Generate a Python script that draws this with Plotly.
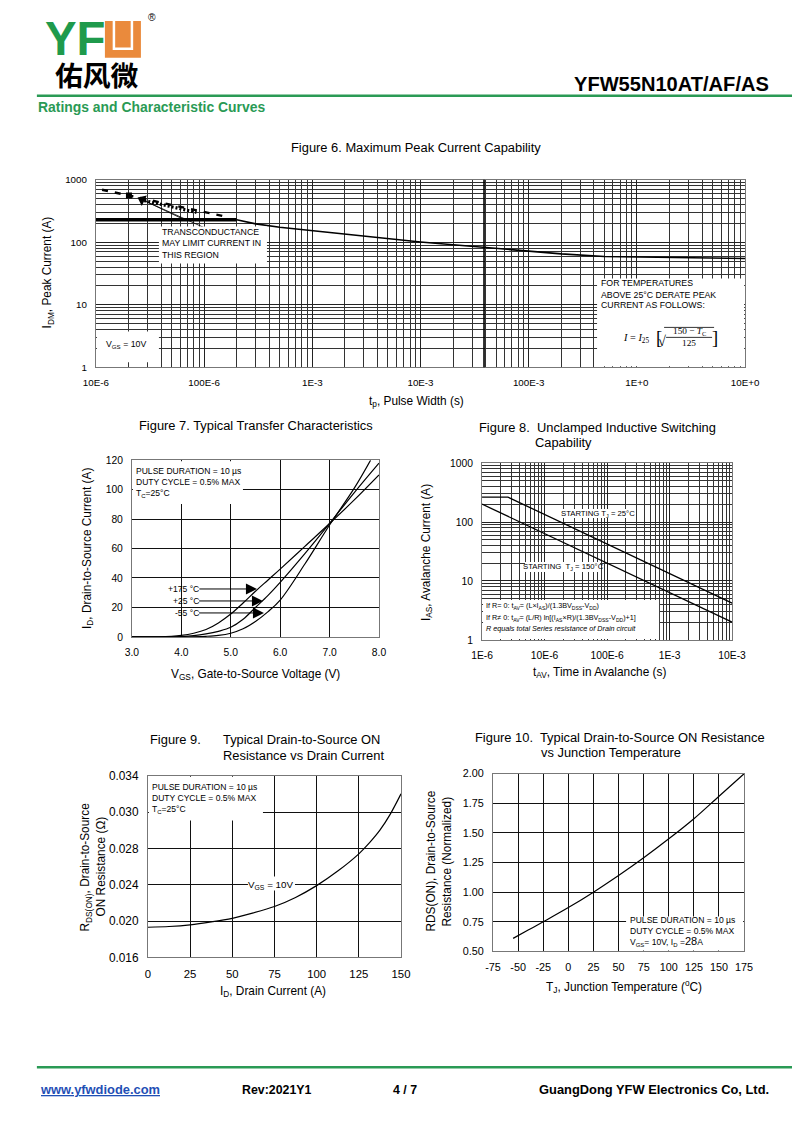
import plotly.graph_objects as go

# figure size and the measured affine relation between figure pixels and the photo
W, H = 784, 1114
KX, AX0 = 0.964, 14.4
KY, AY0 = 0.989, 6.2
FS = 1.03                       # font compensation for the photo scale
FONT = "Liberation Sans, Arial, sans-serif"
SERIF = "Liberation Serif, Times New Roman, serif"
GREEN = "#2a9a55"

# ---------------- data ----------------
# Figure 6 - Maximum Peak Current Capability
f6_xticks = [1e-5, 1e-4, 1e-3, 1e-2, 1e-1, 1, 10]
f6_xlabels = ["10E-6", "100E-6", "1E-3", "10E-3", "100E-3", "1E+0", "10E+0"]
f6_yticks = [1, 10, 100, 1000]
f6_ylabels = ["1", "10", "100", "1000"]
f6_flat_t = [1e-5, 2.0e-4]
f6_flat_i = [228, 228]
f6_curve_t = [2.0e-4, 3e-4, 5e-4, 1e-3, 2e-3, 5e-3, 1e-2, 2e-2, 5e-2, 1e-1, 2e-1, 5e-1, 1.0, 3.0, 10.0]
f6_curve_i = [228, 196, 173, 153, 133, 114, 101, 91, 80, 72, 65, 59, 58, 56, 55]
f6_dash_t = [1.14e-5, 1.55e-4]
f6_dash_i = [690, 258]
f6_dot_t = [2.8e-5, 8.5e-5]
f6_dot_i = [462, 300]
f6_square_t = [2.02e-5]
f6_square_i = [556]
f6_tip_t = [2.67e-5]
f6_tip_i = [479]
f6_lead1_t = [2.67e-5, 6.8e-5]
f6_lead1_i = [479, 222]
f6_lead2_t = [2.67e-5, 1.04e-4]
f6_lead2_i = [479, 166]

# Figure 7 - Typical Transfer Characteristics
f7_v175 = [3.0, 3.5, 3.8, 4.0, 4.25, 4.5, 4.75, 5.0, 5.25, 5.5, 5.75, 6.0, 6.5, 7.0, 7.5, 8.0]
f7_i175 = [0, 0.1, 0.4, 1.0, 2.5, 5, 9.5, 15.5, 23, 31, 38.5, 46, 61.5, 77, 93, 110]
f7_v25 = [3.0, 3.5, 3.8, 4.0, 4.25, 4.5, 4.75, 5.0, 5.25, 5.5, 5.75, 6.0, 6.5, 7.0, 7.5, 8.0]
f7_i25 = [0, 0, 0.05, 0.2, 0.8, 2, 3.8, 6.5, 12, 20, 28, 37, 56.5, 77, 98, 118]
f7_vm55 = [3.0, 4.0, 4.5, 4.75, 5.0, 5.25, 5.5, 5.75, 6.0, 6.5, 7.0, 7.5, 7.83]
f7_im55 = [0, 0, 0.4, 1.0, 2.5, 5.5, 10.5, 17, 25, 49.5, 76, 101, 120]

# Figure 8 - Unclamped Inductive Switching Capability
f8_xticks = [1e-6, 1e-5, 1e-4, 1e-3, 1e-2]
f8_xlabels = ["1E-6", "10E-6", "100E-6", "1E-3", "10E-3"]
f8_yticks = [1, 10, 100, 1000]
f8_ylabels = ["1", "10", "100", "1000"]
f8_t25 = [1e-6, 2.6e-6, 1e-2]
f8_i25 = [265, 265, 4.2]
f8_t150 = [1e-6, 1e-2]
f8_i150 = [202, 2.0]

# Figure 9 - RDS(ON) vs Drain Current
f9_yticks = [0.016, 0.020, 0.024, 0.028, 0.032, 0.036]
f9_ylabels = ["0.016", "0.020", "0.024", "0.028", "0.030", "0.034"]
f9_id = [0, 12.5, 25, 37.5, 50, 62.5, 75, 87.5, 100, 112.5, 125, 131.25, 137.5, 143.75, 150]
f9_r = [0.01932, 0.01940, 0.01958, 0.01990, 0.0203, 0.0209, 0.0216, 0.0226,
        0.0239, 0.0255, 0.0274, 0.0286, 0.0300, 0.0318, 0.0340]

# Figure 10 - RDS(ON) vs Junction Temperature
f10_xticks = [-75, -50, -25, 0, 25, 50, 75, 100, 125, 150, 175]
f10_xlabels = ["-75", "-50", "-25", "0", "25", "50", "75", "100", "125", "150", "175"]
f10_t = [-55, -40, -25, 0, 25, 50, 75, 100, 125, 150, 175]
f10_r = [0.61, 0.68, 0.75, 0.87, 1.0, 1.14, 1.29, 1.45, 1.62, 1.81, 2.0]


# ---------------- helpers (target pixels -> paper) ----------------
def PX(t):
    return ((t - AX0) / KX - 8) / W


def PY(t):
    return 1 - ((t - AY0) / KY - 8) / H


def F(s):
    return round(s * FS, 2)


P6 = (97, 746, 179, 367)
P7 = (133, 380, 460, 637)
P8 = (483, 733, 463, 640)
P9 = (149, 402, 776, 958)
P10 = (494, 745, 774, 952)

fig = go.Figure()


def line(x, y, ax, width=1.2, dash="solid", shape="linear", smoothing=1.0):
    fig.add_trace(go.Scatter(x=x, y=y, xaxis="x" + ax, yaxis="y" + ax, mode="lines",
                             line=dict(color="black", width=width, dash=dash, shape=shape,
                                       smoothing=smoothing),
                             hoverinfo="skip", showlegend=False))


# Figure 6 traces
line(f6_flat_t, f6_flat_i, "", width=3.5)
line(f6_curve_t, f6_curve_i, "", width=1.6)
line(f6_dash_t, f6_dash_i, "", width=2.4, dash="6px,7px")
line(f6_dot_t, f6_dot_i, "", width=3.2, dash="2px,2px")
line(f6_lead1_t, f6_lead1_i, "", width=0.8)
line(f6_lead2_t, f6_lead2_i, "", width=0.8)
fig.add_trace(go.Scatter(x=f6_square_t, y=f6_square_i, mode="markers", xaxis="x", yaxis="y",
                         marker=dict(symbol="square", size=6, color="black"), showlegend=False, hoverinfo="skip"))
fig.add_trace(go.Scatter(x=f6_tip_t, y=f6_tip_i, mode="markers", xaxis="x", yaxis="y",
                         marker=dict(symbol="triangle-left", size=10, angle=26, color="black"),
                         showlegend=False, hoverinfo="skip"))

# Figure 7 traces
line(f7_v175, f7_i175, "2", width=1.2, shape="spline")
line(f7_v25, f7_i25, "2", width=1.2, shape="spline")
line(f7_vm55, f7_im55, "2", width=1.2, shape="spline")

# Figure 8 traces
line(f8_t25, f8_i25, "3", width=1.3)
line(f8_t150, f8_i150, "3", width=1.3)

# Figure 9
line(f9_id, f9_r, "4", width=1.2, shape="spline", smoothing=0.8)

# Figure 10
line(f10_t, f10_r, "5", width=1.2, shape="spline")


def axis(p, which, anchor, size=10, **kw):
    if which == "x":
        dom = [PX(p[0]), PX(p[1])]
    else:
        dom = [PY(p[3]), PY(p[2])]
    d = dict(domain=dom, anchor=anchor, showline=True, mirror=True,
             linecolor="#777", linewidth=1, ticks="", zeroline=False, showgrid=True,
             gridcolor="#111", gridwidth=1.2, fixedrange=True, ticklabelstandoff=6,
             tickfont=dict(family=FONT, size=F(size), color="black"))
    d.update(kw)
    return d


def minor_vals(e0, e1):
    return [m * 10 ** e for e in range(e0, e1) for m in range(2, 10)]


LOGGRID = dict(gridcolor="#222", gridwidth=0.9)

layout = dict(
    width=W, height=H, margin=dict(l=0, r=0, t=0, b=0),
    paper_bgcolor="white", plot_bgcolor="white", showlegend=False,
    xaxis=axis(P6, "x", "y", 9.5, type="log", range=[-5, 1], tickmode="array", tickvals=f6_xticks,
               ticktext=f6_xlabels, **LOGGRID,
               minor=dict(tickmode="array", tickvals=minor_vals(-5, 1), showgrid=True,
                          gridcolor="#333", gridwidth=0.8)),
    yaxis=axis(P6, "y", "x", 9.5, type="log", range=[0, 3], tickmode="array", tickvals=f6_yticks,
               ticktext=f6_ylabels, **LOGGRID,
               minor=dict(tickmode="array", tickvals=minor_vals(0, 3), showgrid=True,
                          gridcolor="#333", gridwidth=0.8)),
    xaxis2=axis(P7, "x", "y2", 10, range=[3, 8], dtick=1, tickformat=".1f"),
    yaxis2=axis(P7, "y", "x2", 10, range=[0, 120], dtick=20),
    xaxis3=axis(P8, "x", "y3", 10, type="log", range=[-6, -2], tickmode="array", tickvals=f8_xticks,
                ticktext=f8_xlabels, **LOGGRID,
                minor=dict(tickmode="array", tickvals=minor_vals(-6, -2), showgrid=True,
                           gridcolor="#333", gridwidth=0.8)),
    yaxis3=axis(P8, "y", "x3", 10, type="log", range=[0, 3], tickmode="array", tickvals=f8_yticks,
                ticktext=f8_ylabels, **LOGGRID,
                minor=dict(tickmode="array", tickvals=minor_vals(0, 3), showgrid=True,
                           gridcolor="#333", gridwidth=0.8)),
    xaxis4=axis(P9, "x", "y4", 11, range=[0, 150], dtick=25),
    yaxis4=axis(P9, "y", "x4", 11.5, range=[0.016, 0.036], tickmode="array", tickvals=f9_yticks,
                ticktext=f9_ylabels),
    xaxis5=axis(P10, "x", "y5", 10.5, range=[-75, 175], tickmode="array", tickvals=f10_xticks,
                ticktext=f10_xlabels),
    yaxis5=axis(P10, "y", "x5", 10.5, range=[0.5, 2.0], dtick=0.25, tickformat=".2f"),
)

# ---------------- shapes ----------------
shapes = []


def wbox(x0, x1, y0, y1):
    shapes.append(dict(type="rect", xref="paper", yref="paper",
                       x0=PX(x0), x1=PX(x1), y0=PY(y1), y1=PY(y0),
                       fillcolor="white", line=dict(width=0), layer="above"))


def pline(x0, y0, x1, y1, color="black", width=1):
    shapes.append(dict(type="line", xref="paper", yref="paper", x0=PX(x0), x1=PX(x1),
                       y0=PY(y0), y1=PY(y1), line=dict(color=color, width=width), layer="above"))


# heavy grid line in Fig 6
pline(485, 179, 485, 367, "black", 1.6)
# white text panels
wbox(160, 268, 226, 263)
wbox(598, 745, 278, 366)
wbox(98, 160, 331, 362)
wbox(134, 244, 461, 504)
wbox(484, 660, 600, 639)
wbox(562, 636, 509, 518)
wbox(526, 601, 562, 572)
wbox(150, 264, 777, 821)
wbox(249, 296, 877, 891)
wbox(627, 744, 917, 951)

# header / footer graphics
pline(38, 95, 800, 95, GREEN, 2.5)
pline(38, 1068, 800, 1068, GREEN, 2.5)
shapes.append(dict(type="rect", xref="paper", yref="paper", x0=PX(106), x1=PX(142),
                   y0=PY(57), y1=PY(20), fillcolor="#ea8a3c", line=dict(width=0), layer="above"))
shapes.append(dict(type="path", xref="paper", yref="paper", layer="above",
                   path="M %f,%f L %f,%f L %f,%f L %f,%f" % (PX(115), PY(20), PX(115), PY(48),
                                                             PX(133), PY(48), PX(133), PY(20)),
                   line=dict(color="white", width=2.5)))
# formula lines in Fig 6
pline(665, 327, 715, 327, "black", 0.8)
pline(667, 337, 713, 337, "black", 0.8)

layout["shapes"] = shapes

# ---------------- annotations ----------------
anns = []


def T(text, x, y, size=10, xa="center", ya="middle", color="black", family=FONT, angle=0, align="center"):
    anns.append(dict(text=text, x=PX(x), y=PY(y), xref="paper", yref="paper", showarrow=False,
                     xanchor=xa, yanchor=ya, textangle=angle, align=align, borderpad=0,
                     font=dict(size=F(size), color=color, family=family)))


def ARROW(xt, yt, xs, ys, size=2.2, width=1):
    anns.append(dict(text="", x=PX(xt), y=PY(yt), xref="paper", yref="paper", showarrow=True,
                     ax=(xs - xt) / KX, ay=(ys - yt) / KY, arrowhead=2, arrowsize=size, arrowwidth=width,
                     arrowcolor="black", standoff=0, startstandoff=0))


# header
T("<b>YF</b>", 45, 38, 46, xa="left", color="#1f9a4c")
T("®", 153, 17, 10)
T("<b>佑风微</b>", 98, 73, 27, family="Noto Sans CJK SC")
T("<b>YFW55N10AT/AF/AS</b>", 771, 83, 19.5, xa="right")
T("<b>Ratings and Characteristic Curves</b>", 38, 106, 13.5, xa="left", color=GREEN)

# footer
T("<b><u>www.yfwdiode.com</u></b>", 40, 1090, 12.5, xa="left", color="#1f4fb5")
T("<b>Rev:2021Y1</b>", 242, 1091, 12, xa="left")
T("<b>4 / 7</b>", 393, 1091, 12, xa="left")
T("<b>GuangDong YFW Electronics Co, Ltd.</b>", 771, 1090, 12.5, xa="right")

# Figure 6 texts
T("Figure 6. Maximum Peak Current Capability", 417, 147, 12.5)
T("I<sub>DM</sub>, Peak Current (A)", 49, 272, 11.5, angle=-90)
T("t<sub>p</sub>, Pulse Width (s)", 417, 401, 11.5)
T("TRANSCONDUCTANCE<br>MAY LIMIT CURRENT IN<br>THIS REGION", 162, 243, 8.5, xa="left", align="left")
T("FOR TEMPERATURES", 601, 283, 8.5, xa="left")
T("ABOVE 25°C DERATE PEAK", 601, 295, 8.5, xa="left")
T("CURRENT AS FOLLOWS:", 601, 305, 8.5, xa="left")
T("<i>I</i> = <i>I</i><sub>25</sub>", 651, 338, 10, xa="right", family=SERIF)
T("[", 656, 337, 18, xa="left", family=SERIF)
T("√", 663, 341, 14, family=SERIF)
T("]", 716, 337, 18, family=SERIF)
T("150 − <i>T</i><sub>C</sub>", 690, 331, 9, family=SERIF)
T("125", 690, 343, 9, family=SERIF)
T("V<sub>GS</sub> = 10V", 106, 344, 8.5, xa="left")

# Figure 7 texts
T("Figure 7. Typical Transfer Characteristics", 257, 425, 12.5)
T("I<sub>D</sub>, Drain-to-Source Current (A)", 88, 548, 11.5, angle=-90)
T("V<sub>GS</sub>, Gate-to-Source Voltage (V)", 257, 675, 11.5)
T("PULSE DURATION = 10 µs<br>DUTY CYCLE = 0.5% MAX<br>T<sub>C</sub>=25°C", 136, 482, 8.3, xa="left", align="left")
T("+175 °C", 201, 589, 8.3, xa="right")
T("+25 °C", 201, 601, 8.3, xa="right")
T("-55 °C", 201, 613, 8.3, xa="right")
ARROW(258, 589, 201, 589)
ARROW(264, 601, 201, 601)
ARROW(265, 613, 201, 613)

# Figure 8 texts
T("Figure 8.  Unclamped Inductive Switching", 479, 427, 12.5, xa="left")
T("Capability", 535, 442, 12.5, xa="left")
T("I<sub>AS</sub>, Avalanche Current (A)", 427, 553, 11.5, angle=-90)
T("t<sub>AV</sub>, Time in Avalanche (s)", 600, 673, 11.5)
T("STARTING T<sub>J</sub> = 25°C", 599, 514, 7.5)
T("STARTING  T<sub>J</sub> = 150°C", 564, 567, 7.5)
T("If R= 0: t<sub>AV</sub>= (L×I<sub>AS</sub>)/(1.3BV<sub>DSS</sub>-V<sub>DD</sub>)", 486, 606, 7, xa="left")
T("If R≠ 0: t<sub>AV</sub>= (L/R) ln[(I<sub>AS</sub>×R)/(1.3BV<sub>DSS</sub>-V<sub>DD</sub>)+1]", 486, 618, 7, xa="left")
T("<i>R equals total Series resistance of Drain circuit</i>", 486, 629, 7, xa="left")

# Figure 9 texts
T("Figure 9.", 150, 740, 12.5, xa="left")
T("Typical Drain-to-Source ON", 223, 740, 12.5, xa="left")
T("Resistance vs Drain Current", 223, 756, 12.5, xa="left")
T("R<sub>DS(ON)</sub>, Drain-to-Source", 87, 867, 11.5, angle=-90)
T("ON Resistance (Ω)", 102, 867, 11.5, angle=-90)
T("I<sub>D</sub>, Drain Current (A)", 274, 992, 11.5)
T("PULSE DURATION = 10 µs<br>DUTY CYCLE = 0.5% MAX<br>T<sub>C</sub>=25°C", 152, 799, 8.3, xa="left", align="left")
T("V<sub>GS</sub> = 10V", 272, 885, 9.5)

# Figure 10 texts
T("Figure 10.  Typical Drain-to-Source ON Resistance", 475, 738, 12.5, xa="left")
T("vs Junction Temperature", 612, 753, 12.5)
T("RDS(ON), Drain-to-Source", 432, 862, 11.5, angle=-90)
T("Resistance (Normalized)", 448, 862, 11.5, angle=-90)
T("T<sub>J</sub>, Junction Temperature (<sup>o</sup>C)", 625, 987, 11.5)
T("PULSE DURATION = 10 µs<br>DUTY CYCLE = 0.5% MAX<br>V<sub>GS</sub>= 10V, I<sub>D</sub> =<span style='font-size:11px'>28</span>A",
  630, 932, 8.3, xa="left", align="left")

layout["annotations"] = anns
fig.update_layout(**layout)
fig.write_html("out.html")
